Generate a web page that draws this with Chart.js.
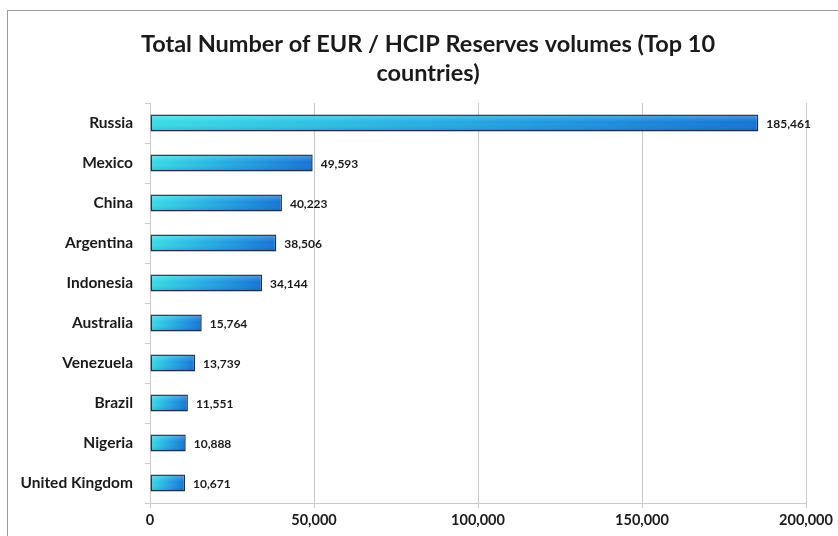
<!DOCTYPE html>
<html>
<head>
<meta charset="utf-8">
<title>EUR / HCIP Reserves volumes</title>
<script src="https://cdn.jsdelivr.net/npm/chart.js@4/dist/chart.umd.min.js"></script>
<style>
  html, body { margin: 0; padding: 0; background: #fff; overflow: hidden; }
  #wrap { position: absolute; left: 0; top: 0; width: 838px; height: 536px; }
  #frame { position: absolute; left: 7px; top: 10px; width: 900px; height: 600px;
           border: 1px solid #9a9a9a; pointer-events: none; }
</style>
</head>
<body>
<div id="wrap"><canvas id="chart" width="838" height="536"></canvas></div>
<div id="frame"></div>
<script>
// top 10 countries by number of EUR / HCIP reserves volumes
const countries = ['Russia', 'Mexico', 'China', 'Argentina', 'Indonesia',
  'Australia', 'Venezuela', 'Brazil', 'Nigeria', 'United Kingdom'];
const volumes = [185461, 49593, 40223, 38506, 34144, 15764, 13739, 11551, 10888, 10671];
const xTicks = [0, 50000, 100000, 150000, 200000];
const titleLines = ['Total Number of EUR / HCIP Reserves volumes (Top 10', 'countries)'];

const FONT = 'Lato, "Open Sans", sans-serif';
const fmtNum = (v) => v.toLocaleString('en-US');

// two-line title, centred a bit right of the canvas middle (over the frame)
const chartTitle = {
  id: 'chartTitle',
  afterDraw(chart) {
    const ctx = chart.ctx;
    ctx.save();
    ctx.font = 'bold 23.5px ' + FONT;
    ctx.fillStyle = '#1a1a1a';
    ctx.textAlign = 'center';
    ctx.textBaseline = 'middle';
    titleLines.forEach((t, i) => ctx.fillText(t, 428, 44 + i * 29));
    ctx.restore();
  }
};

// soft top-light / bottom-dark sheen over each bar, then the value label
const barValues = {
  id: 'barValues',
  afterDatasetsDraw(chart) {
    const ctx = chart.ctx;
    const meta = chart.getDatasetMeta(0);
    ctx.save();
    meta.data.forEach((bar) => {
      const top = bar.y - bar.height / 2, h = bar.height;
      const g = ctx.createLinearGradient(0, top, 0, top + h);
      g.addColorStop(0, 'rgba(255,255,255,0.28)');
      g.addColorStop(0.45, 'rgba(255,255,255,0)');
      g.addColorStop(1, 'rgba(0,20,60,0.18)');
      ctx.fillStyle = g;
      ctx.fillRect(bar.base + 1, top + 1, bar.x - bar.base - 2, h - 2);
    });
    ctx.font = 'bold 12px ' + FONT;
    ctx.fillStyle = '#1a1a1a';
    ctx.textBaseline = 'middle';
    ctx.textAlign = 'left';
    meta.data.forEach((bar, i) => {
      ctx.fillText(fmtNum(volumes[i]), bar.x + 8, bar.y + 1);
    });
    ctx.restore();
  }
};

// cyan -> blue gradient along the length of each bar
function barFill(c) {
  const chart = c.chart;
  if (!chart.chartArea || c.raw == null) return '#2aa6e0';
  const x = chart.scales.x;
  const g = chart.ctx.createLinearGradient(x.getPixelForValue(0), 0, x.getPixelForValue(c.raw), 0);
  g.addColorStop(0, '#38dde6');
  g.addColorStop(0.5, '#22a9e2');
  g.addColorStop(1, '#1373d6');
  return g;
}

new Chart(document.getElementById('chart'), {
  type: 'bar',
  data: {
    labels: countries,
    datasets: [{
      data: volumes,
      backgroundColor: barFill,
      borderColor: '#1b2f4a',
      borderWidth: 1.5,
      borderSkipped: false,
      barPercentage: 0.42,
      categoryPercentage: 1
    }]
  },
  options: {
    indexAxis: 'y',
    responsive: false,
    animation: false,
    layout: { padding: { left: 0, right: 32, top: 103, bottom: 0 } },
    plugins: {
      legend: { display: false },
      tooltip: { enabled: false },
      title: { display: false }
    },
    scales: {
      x: {
        min: 0,
        max: 200000,
        afterBuildTicks: (s) => { s.ticks = xTicks.map((v) => ({ value: v })); },
        afterFit: (s) => { s.height = 33; },
        grid: { color: '#c9c9c9', lineWidth: 1, tickLength: 5, tickColor: '#c9c9c9' },
        border: { color: '#c9c9c9' },
        ticks: {
          color: '#1a1a1a',
          padding: 4,
          font: { family: FONT, size: 14.5, weight: 'bold' },
          callback: (v) => fmtNum(v)
        }
      },
      y: {
        afterFit: (s) => { s.width = 150; },
        grid: { drawOnChartArea: false, tickLength: 5, tickColor: '#c9c9c9', offset: true },
        border: { color: '#c9c9c9' },
        ticks: {
          color: '#1a1a1a',
          padding: 12,
          font: { family: FONT, size: 15.5, weight: 'bold' }
        }
      }
    }
  },
  plugins: [barValues, chartTitle]
});
</script>
</body>
</html>
